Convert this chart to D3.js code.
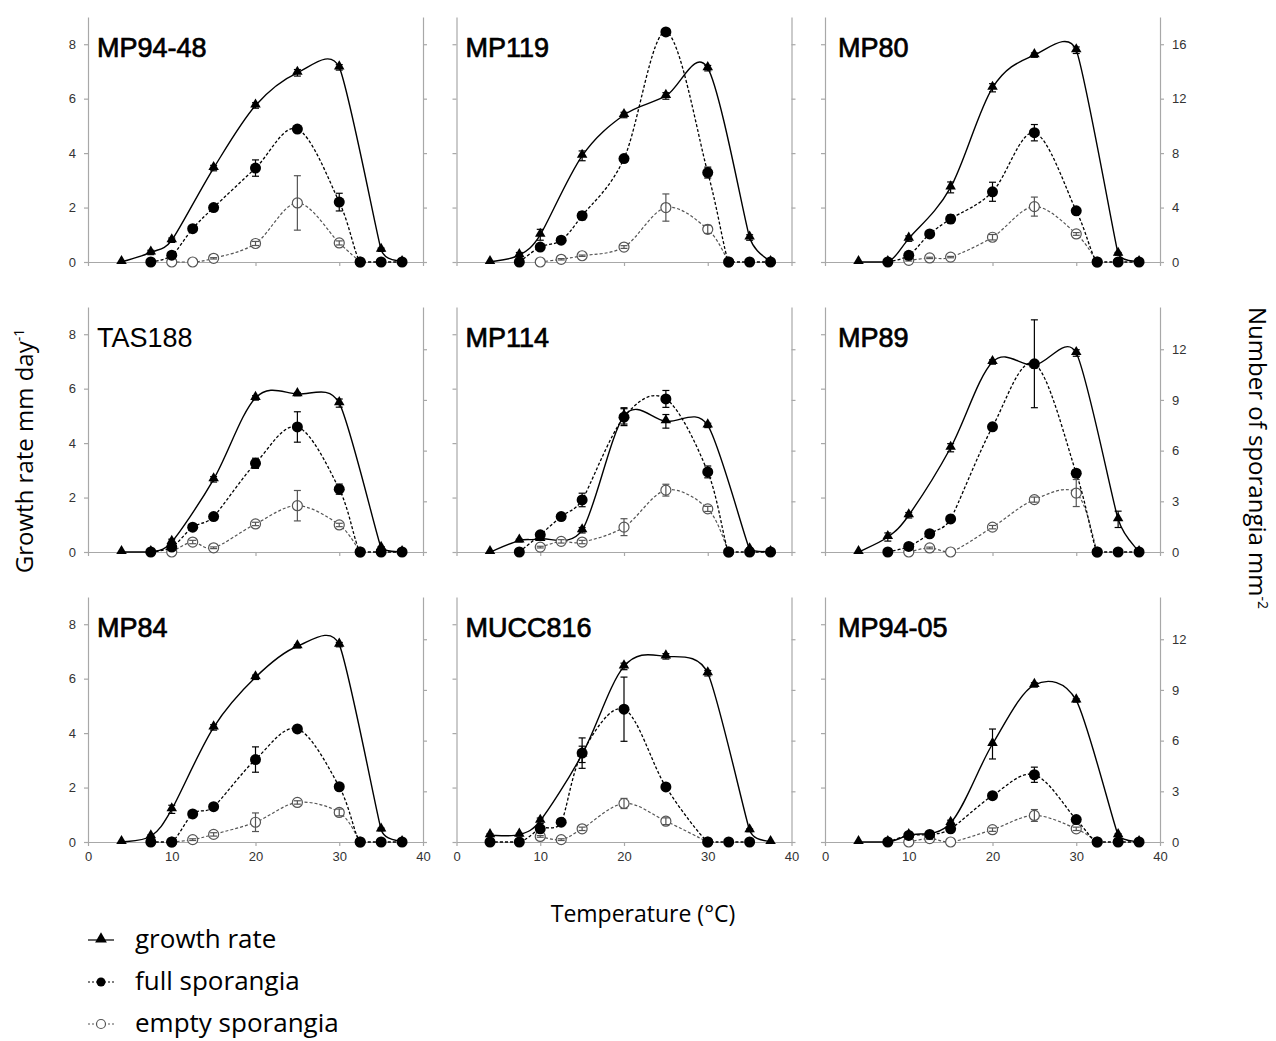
<!DOCTYPE html>
<html>
<head>
<meta charset="utf-8">
<script src="https://cdn.jsdelivr.net/npm/d3@7"></script>
<style>
  body { margin: 0; background: #fff; }
  svg { display: block; }
</style>
</head>
<body>
<svg id="chart" width="1276" height="1041"></svg>
<script>
const _ = null;

const strains = ["MP94-48", "MP119", "MP80", "TAS188", "MP114", "MP89", "MP84", "MUCC816", "MP94-05"];
const temps = [4, 7.5, 10, 12.5, 15, 20, 25, 30, 32.5, 35, 37.5];

// growth rate, mm day-1 (left axis)
const growthRate = [
  [0,    0.35, 0.8,  _, 3.45, 5.75, 6.95, 7.15, _, 0.45, 0],
  [0,    0.25, 1.0,  _, 3.9,  5.4,  6.1,  7.12, _, 0.9,  0],
  [0,    0,    0.86, _, 2.74, 6.4,  7.6,  7.78, _, 0.3,  0],
  [0,    0,    0.37, _, 2.67, 5.66, 5.8,  5.47, _, 0.15, 0],
  [0,    0.42, 0.48, _, 0.8,  5.0,  4.8,  4.65, _, 0.1,  0],
  [0,    0.55, 1.35, _, 3.83, 6.98, 6.86, 7.31, _, 1.2,  0],
  [0,    0.21, 1.2,  _, 4.21, 6.05, 7.19, 7.25, _, 0.46, 0],
  [0.25, 0.27, 0.78, _, 3.22, 6.45, 6.82, 6.2,  _, 0.43, 0],
  [0,    0,    0.25, _, 0.7,  3.6,  5.77, 5.2,  _, 0.25, 0]
];
const growthErr = [
  [0,    0.08, 0.08, _, 0.1,  0.1,  0.12, 0.1,  _, 0.06, 0],
  [0,    0.1,  0.2,  _, 0.18, 0.1,  0.12, 0.1,  _, 0.1,  0],
  [0,    0,    0.1,  _, 0.2,  0.15, 0.08, 0.12, _, 0.05, 0],
  [0,    0,    0.1,  _, 0.1,  0.08, 0.06, 0.15, _, 0.05, 0],
  [0,    0.05, 0.05, _, 0.1,  0.3,  0.25, 0.08, _, 0.05, 0],
  [0,    0.15, 0.1,  _, 0.15, 0.08, 0.1,  0.12, _, 0.3,  0],
  [0,    0.05, 0.15, _, 0.1,  0.08, 0.06, 0.08, _, 0.05, 0],
  [0.05, 0.05, 0.1,  _, 0.3,  0.12, 0.1,  0.1,  _, 0.05, 0],
  [0,    0,    0.05, _, 0.1,  0.55, 0.08, 0.06, _, 0.05, 0]
];

// full sporangia, number mm-2 (right axis)
const fullSporangia = [
  [_, 0, 0.5,  2.45, 4.0,  6.9,  9.77,  4.4,  0, 0, 0],
  [_, 0, 1.1,  1.6,  3.4,  7.6,  16.9,  6.57, 0, 0, 0],
  [_, 0, 0.49, 2.06, 3.16, 5.16, 9.5,   3.76, 0, 0, 0],
  [_, 0, 0.29, 1.47, 2.1,  5.25, 7.4,   3.72, 0, 0, 0],
  [_, 0, 1.02, 2.1,  3.08, 7.98, 9.06,  4.74, 0, 0, 0],
  [_, 0, 0.33, 1.08, 1.96, 7.41, 11.14, 4.66, 0, 0, 0],
  [_, 0, 0,    1.66, 2.09, 4.88, 6.69,  3.27, 0, 0, 0],
  [0, 0, 0.78, 1.17, 5.26, 7.86, 3.26,  0,    0, 0, _],
  [_, 0, 0.39, 0.45, 0.78, 2.74, 3.98,  1.33, 0, 0, 0]
];
const fullErr = [
  [_, 0, 0.1,  0.1,  0.1,  0.6,  0.25, 0.65, 0, 0, 0],
  [_, 0, 0.1,  0.1,  0.3,  0.1,  0.2,  0.4,  0, 0, 0],
  [_, 0, 0.1,  0.1,  0.3,  0.7,  0.6,  0.1,  0, 0, 0],
  [_, 0, 0.1,  0.1,  0.15, 0.3,  0.9,  0.3,  0, 0, 0],
  [_, 0, 0.1,  0.1,  0.4,  0.5,  0.5,  0.35, 0, 0, 0],
  [_, 0, 0.1,  0.1,  0.1,  0.2,  2.6,  0.2,  0, 0, 0],
  [_, 0, 0,    0.1,  0.1,  0.75, 0.1,  0.1,  0, 0, 0],
  [0, 0, 0.1,  0.1,  0.9,  1.9,  0.1,  0,    0, 0, _],
  [_, 0, 0.05, 0.05, 0.1,  0.15, 0.45, 0.15, 0, 0, 0]
];

// empty sporangia, number mm-2 (right axis)
const emptySporangia = [
  [_, _, 0,    0,    0.27, 1.36, 4.34, 1.4,  0, _, _],
  [_, _, 0,    0.2,  0.46, 1.1,  4.0,  2.4,  0, _, _],
  [_, _, 0.12, 0.3,  0.36, 1.82, 4.07, 2.06, 0, _, _],
  [_, _, 0,    0.59, 0.25, 1.66, 2.74, 1.6,  0, _, _],
  [_, _, 0.29, 0.63, 0.59, 1.47, 3.66, 2.55, 0, _, _],
  [_, _, 0,    0.24, 0,    1.47, 3.1,  3.49, 0, _, _],
  [_, _, 0,    0.14, 0.45, 1.17, 2.34, 1.75, 0, _, _],
  [_, _, 0.33, 0.14, 0.78, 2.28, 1.23, 0,    _, _, _],
  [_, _, 0,    0.2,  0,    0.73, 1.57, 0.78, 0, _, _]
];
const emptyErr = [
  [_, _, 0,    0,    0.05, 0.15, 2.0,  0.15, 0, _, _],
  [_, _, 0,    0.05, 0.05, 0.1,  1.0,  0.3,  0, _, _],
  [_, _, 0.05, 0.05, 0.05, 0.2,  0.7,  0.1,  0, _, _],
  [_, _, 0,    0.1,  0.05, 0.1,  0.9,  0.1,  0, _, _],
  [_, _, 0.05, 0.1,  0.1,  0.5,  0.35, 0.15, 0, _, _],
  [_, _, 0,    0.05, 0,    0.1,  0.15, 0.8,  0, _, _],
  [_, _, 0,    0.05, 0.1,  0.55, 0.1,  0.2,  0, _, _],
  [_, _, 0.05, 0.05, 0.1,  0.3,  0.2,  0,    _, _, _],
  [_, _, 0,    0.05, 0,    0.1,  0.35, 0.1,  0, _, _]
];

// axes
const xTicks = [0, 10, 20, 30, 40];
const growthTicks = [0, 2, 4, 6, 8];
const sporangiaMax = [18, 14.5, 14.5];
const sporangiaTicks = [[0, 4, 8, 12, 16], [0, 3, 6, 9, 12], [0, 3, 6, 9, 12]];

const legendLabels = ["growth rate", "full sporangia", "empty sporangia"];

// layout
const panelW = 335, panelH = 245;
const left0 = 88, colStep = 368.5;
const base0 = 262, rowStep = 290;
const axisColor = "#a8a8a8";
const tickFont = "'Liberation Sans', Arial, sans-serif";
const labelFont = "'Open Sans', 'Noto Sans', sans-serif";
const lightTitles = new Set(["TAS188"]);

const svg = d3.select("#chart");
svg.append("rect").attr("width", 1276).attr("height", 1041).attr("fill", "#fff");

const x = d3.scaleLinear([0, 40], [0, panelW]);
const yL = d3.scaleLinear([0, 9], [panelH, 0]);
const tri = d3.symbol(d3.symbolTriangle, 48);

// spreadsheet-style smoothed line: Catmull-Rom tangents (1/6),
// tangent limited to half the shorter neighbouring segment,
// control points kept above the zero line
function smoothPath(pts, floorY) {
  const n = pts.length;
  const p = d3.path();
  if (!n) return "";
  const tan = pts.map((pt, i) => {
    const a = pts[Math.max(i - 1, 0)], b = pts[Math.min(i + 1, n - 1)];
    let tx = (b[0] - a[0]) / 6, ty = (b[1] - a[1]) / 6;
    const len = Math.hypot(tx, ty);
    const dPrev = i > 0 ? Math.hypot(pt[0] - pts[i - 1][0], pt[1] - pts[i - 1][1]) : Infinity;
    const dNext = i < n - 1 ? Math.hypot(pts[i + 1][0] - pt[0], pts[i + 1][1] - pt[1]) : Infinity;
    const lim = Math.min(dPrev, dNext) / 2;
    if (len > lim && len > 0) { tx *= lim / len; ty *= lim / len; }
    return [tx, ty];
  });
  p.moveTo(pts[0][0], pts[0][1]);
  for (let i = 0; i < n - 1; i++) {
    p.bezierCurveTo(
      pts[i][0] + tan[i][0], Math.min(pts[i][1] + tan[i][1], floorY),
      pts[i + 1][0] - tan[i + 1][0], Math.min(pts[i + 1][1] - tan[i + 1][1], floorY),
      pts[i + 1][0], pts[i + 1][1]);
  }
  return p.toString();
}

function series(vals, errs) {
  return temps.map((t, j) => ({t, v: vals[j], e: errs[j]})).filter(d => d.v != null);
}

function styleAxis(g) {
  g.selectAll(".domain").attr("stroke", axisColor).attr("stroke-width", 1.2);
  g.selectAll(".tick line").attr("stroke", axisColor).attr("stroke-width", 1.2);
  g.selectAll(".tick text").attr("fill", "#333").attr("font-family", tickFont).attr("font-size", 13);
}

function errorBars(g, data, y, color) {
  const eb = g.append("g").attr("stroke", color).attr("stroke-width", 1.2)
    .selectAll("g").data(data.filter(d => d.e > 0)).join("g");
  eb.append("line")
    .attr("x1", d => x(d.t)).attr("x2", d => x(d.t))
    .attr("y1", d => y(d.v - d.e)).attr("y2", d => y(d.v + d.e));
  eb.append("line")
    .attr("x1", d => x(d.t) - 3.5).attr("x2", d => x(d.t) + 3.5)
    .attr("y1", d => y(d.v + d.e)).attr("y2", d => y(d.v + d.e));
  eb.append("line")
    .attr("x1", d => x(d.t) - 3.5).attr("x2", d => x(d.t) + 3.5)
    .attr("y1", d => y(d.v - d.e)).attr("y2", d => y(d.v - d.e));
}

strains.forEach((name, i) => {
  const r = Math.floor(i / 3), c = i % 3;
  const g = svg.append("g")
    .attr("transform", `translate(${left0 + c * colStep},${base0 + r * rowStep - panelH})`);
  const yR = d3.scaleLinear([0, sporangiaMax[r]], [panelH, 0]);

  // axes
  g.append("g")
    .call(d3.axisLeft(yL).tickValues(growthTicks).tickSize(4).tickSizeOuter(0).tickPadding(8)
      .tickFormat(c === 0 ? d3.format("d") : () => ""))
    .call(styleAxis);
  g.append("g")
    .attr("transform", `translate(${panelW},0)`)
    .call(d3.axisRight(yR).tickValues(sporangiaTicks[r]).tickSize(4).tickSizeOuter(0).tickPadding(8)
      .tickFormat(c === 2 ? d3.format("d") : () => ""))
    .call(styleAxis);
  g.append("g")
    .attr("transform", `translate(0,${panelH})`)
    .call(d3.axisBottom(x).tickValues(xTicks).tickSize(4).tickSizeOuter(0).tickPadding(6)
      .tickFormat(r === 2 ? d3.format("d") : () => ""))
    .call(styleAxis);

  // title
  g.append("text")
    .attr("x", c === 2 ? 13 : 9).attr("y", 40)
    .attr("font-family", tickFont).attr("font-size", 27)
    .attr("fill", "#000")
    .attr("stroke", lightTitles.has(name) ? "none" : "#000")
    .attr("stroke-width", 0.7)
    .text(name);

  const gr = series(growthRate[i], growthErr[i]);
  const fu = series(fullSporangia[i], fullErr[i]);
  const em = series(emptySporangia[i], emptyErr[i]);

  // growth rate
  g.append("path")
    .attr("fill", "none").attr("stroke", "#000").attr("stroke-width", 1.4)
    .attr("d", smoothPath(gr.map(d => [x(d.t), yL(d.v)]), yL(0)));
  errorBars(g, gr, yL, "#000");
  g.append("g").selectAll("path").data(gr).join("path")
    .attr("transform", d => `translate(${x(d.t)},${yL(d.v) - 1})`)
    .attr("d", tri).attr("fill", "#000");

  // empty sporangia
  g.append("path")
    .attr("fill", "none").attr("stroke", "#555").attr("stroke-width", 1.2)
    .attr("stroke-dasharray", "3,2")
    .attr("d", smoothPath(em.map(d => [x(d.t), yR(d.v)]), yR(0)));
  g.append("g").selectAll("circle").data(em).join("circle")
    .attr("cx", d => x(d.t)).attr("cy", d => yR(d.v)).attr("r", 5)
    .attr("fill", "#fff").attr("stroke", "#555").attr("stroke-width", 1.2);
  errorBars(g, em, yR, "#555");

  // full sporangia
  g.append("path")
    .attr("fill", "none").attr("stroke", "#000").attr("stroke-width", 1.3)
    .attr("stroke-dasharray", "3,2")
    .attr("d", smoothPath(fu.map(d => [x(d.t), yR(d.v)]), yR(0)));
  g.append("g").selectAll("circle").data(fu).join("circle")
    .attr("cx", d => x(d.t)).attr("cy", d => yR(d.v)).attr("r", 5.5)
    .attr("fill", "#000");
  errorBars(g, fu, yR, "#000");
});

// axis titles
const yTitle = svg.append("text")
  .attr("transform", "translate(33,451) rotate(-90)")
  .attr("text-anchor", "middle")
  .attr("font-family", labelFont).attr("font-size", 24).attr("fill", "#000");
yTitle.append("tspan").text("Growth rate mm day");
yTitle.append("tspan").attr("dy", -9).attr("font-size", 14).text("-1");

const y2Title = svg.append("text")
  .attr("transform", "translate(1249,458) rotate(90)")
  .attr("text-anchor", "middle")
  .attr("font-family", labelFont).attr("font-size", 24).attr("fill", "#000");
y2Title.append("tspan").text("Number of sporangia mm");
y2Title.append("tspan").attr("dy", -9).attr("font-size", 14).text("-2");

svg.append("text")
  .attr("x", 643).attr("y", 922)
  .attr("text-anchor", "middle")
  .attr("font-family", labelFont).attr("font-size", 23).attr("fill", "#000")
  .text("Temperature (°C)");

// legend
const legend = svg.append("g").attr("transform", "translate(88,940)");
const item = legend.selectAll("g").data(legendLabels).join("g")
  .attr("transform", (d, k) => `translate(0,${k * 42})`);
item.append("line")
  .attr("x1", 0).attr("x2", 26).attr("y1", 0).attr("y2", 0)
  .attr("stroke", (d, k) => k === 2 ? "#555" : "#000")
  .attr("stroke-width", 1.2)
  .attr("stroke-dasharray", (d, k) => k === 0 ? null : "2,2");
item.filter((d, k) => k === 0).append("path")
  .attr("transform", "translate(13,-1)").attr("d", d3.symbol(d3.symbolTriangle, 60)).attr("fill", "#000");
item.filter((d, k) => k === 1).append("circle")
  .attr("cx", 13).attr("r", 4.5).attr("fill", "#000");
item.filter((d, k) => k === 2).append("circle")
  .attr("cx", 13).attr("r", 4.5).attr("fill", "#fff").attr("stroke", "#555").attr("stroke-width", 1.2);
item.append("text")
  .attr("x", 47).attr("y", 8)
  .attr("font-family", labelFont).attr("font-size", 26).attr("fill", "#000")
  .text(d => d);
</script>
</body>
</html>
